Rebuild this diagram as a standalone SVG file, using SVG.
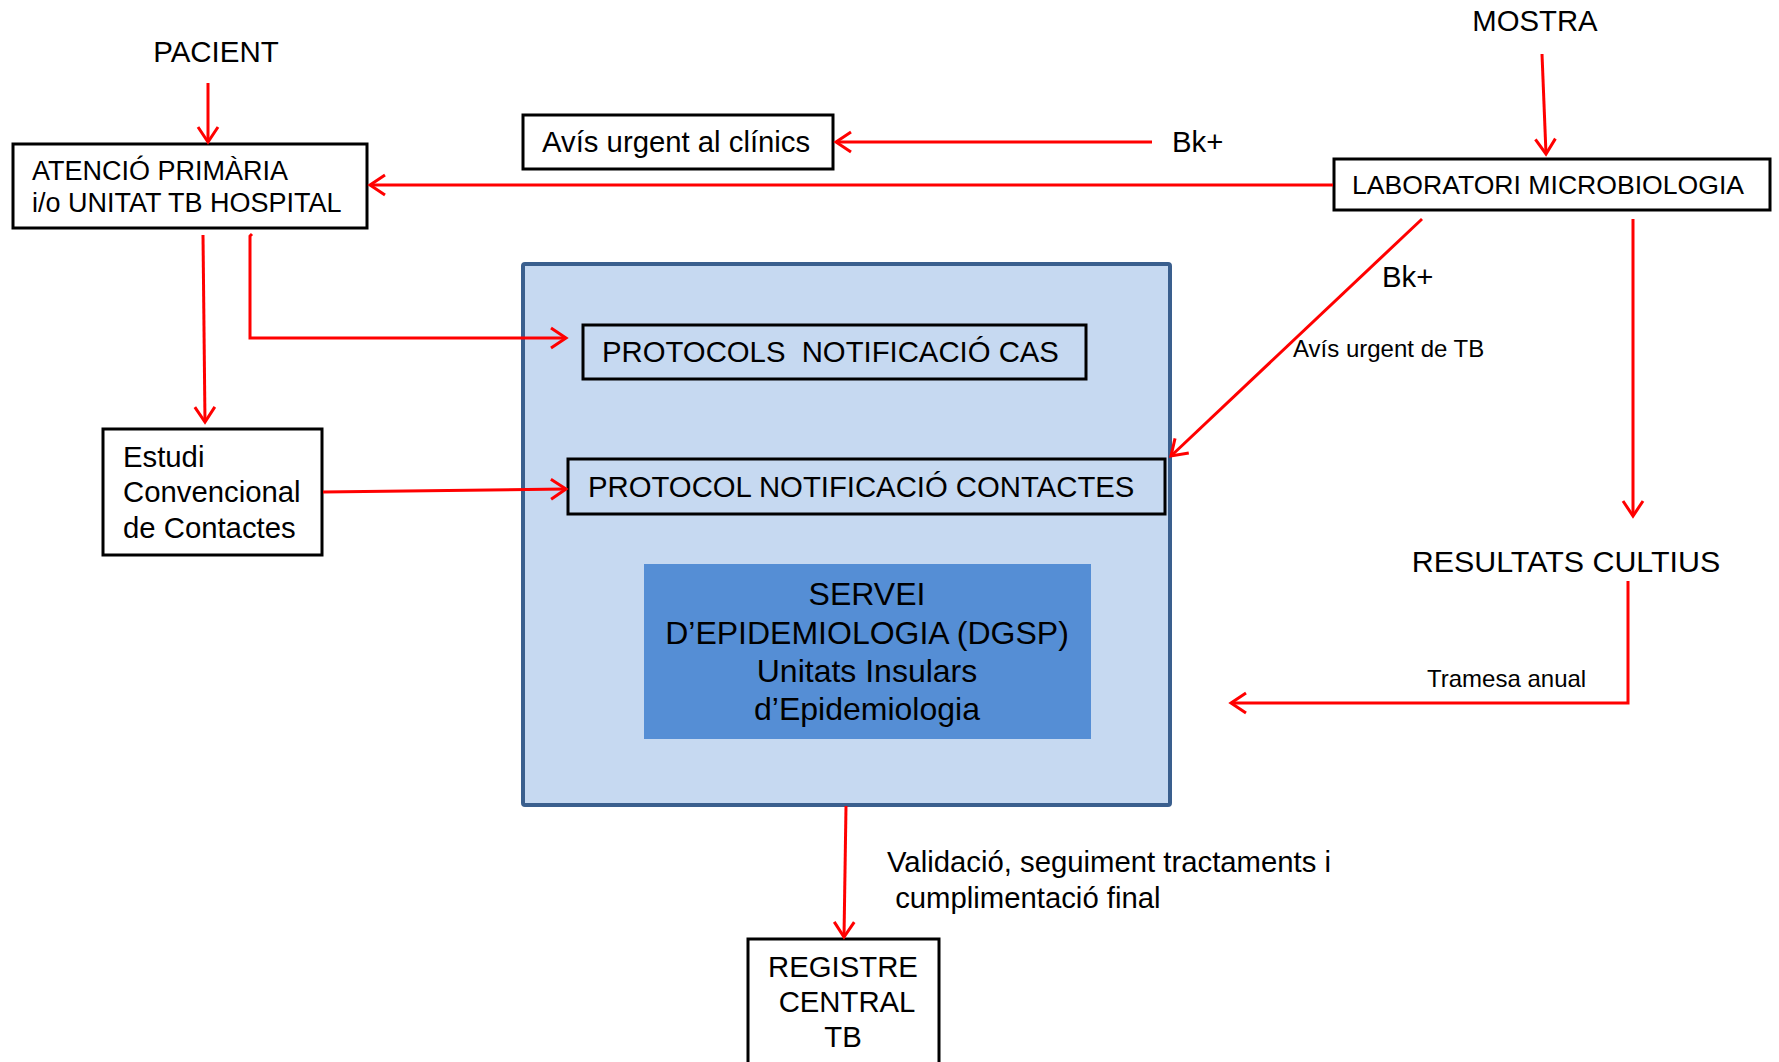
<svg xmlns="http://www.w3.org/2000/svg" width="1779" height="1062" viewBox="0 0 1779 1062">
<style>
text{font-family:"Liberation Sans",Arial,sans-serif;fill:#000;}
.box{fill:#fff;stroke:#000;stroke-width:3;}
.inbox{fill:none;stroke:#000;stroke-width:3;}
.con{fill:none;stroke:#ff0000;stroke-width:3;}
.t27{font-size:27px;}
.t29{font-size:29.3px;}
.t32{font-size:32px;}
.t24{font-size:24px;}
</style>
<defs>
<marker id="arr" viewBox="-20 -14 24 28" markerWidth="24" markerHeight="28" refX="0" refY="0" orient="auto" markerUnits="userSpaceOnUse">
<path d="M-15,-10 L0,0 L-15,10" fill="none" stroke="#ff0000" stroke-width="3"/>
</marker>
</defs>
<rect width="1779" height="1062" fill="#fff"/>

<g id="pacient"><text style="font-size:29.5px" x="216" y="62" text-anchor="middle">PACIENT</text></g>
<g id="mostra"><text class="t29" x="1535" y="31" text-anchor="middle">MOSTRA</text></g>

<g id="atencio">
<rect class="box" x="13" y="144" width="354" height="84"/>
<text class="t27" x="32" y="180">ATENCIÓ PRIMÀRIA</text>
<text class="t27" x="32" y="212">i/o UNITAT TB HOSPITAL</text>
</g>

<g id="avis">
<rect class="box" x="523" y="115" width="310" height="54"/>
<text class="t29" x="542" y="152">Avís urgent al clínics</text>
</g>

<g id="laboratori">
<rect class="box" x="1334" y="159" width="436" height="51"/>
<text style="font-size:26.6px" x="1352" y="194">LABORATORI MICROBIOLOGIA</text>
</g>

<g id="epidemiologia">
<rect x="523" y="264" width="647" height="541" fill="#c6d9f1" stroke="#3a5f8e" stroke-width="4" rx="2"/>
</g>

<g id="protocol-cas">
<rect class="inbox" x="583" y="325" width="503" height="54"/>
<text class="t29" x="602" y="362" xml:space="preserve">PROTOCOLS  NOTIFICACIÓ CAS</text>
</g>

<g id="protocol-contactes">
<rect class="inbox" x="568" y="459" width="597" height="55"/>
<text class="t29" x="588" y="497">PROTOCOL NOTIFICACIÓ CONTACTES</text>
</g>

<g id="servei">
<rect x="644" y="564" width="447" height="175" fill="#558ed5"/>
<text class="t32" x="867" y="605" text-anchor="middle">SERVEI</text>
<text class="t32" x="867" y="644" text-anchor="middle">D’EPIDEMIOLOGIA (DGSP)</text>
<text class="t32" x="867" y="682" text-anchor="middle">Unitats Insulars</text>
<text class="t32" x="867" y="720" text-anchor="middle">d’Epidemiologia</text>
</g>

<g id="estudi">
<rect class="box" x="103" y="429" width="219" height="126"/>
<text class="t29" x="123" y="467">Estudi</text>
<text class="t29" x="123" y="502">Convencional</text>
<text class="t29" x="123" y="538">de Contactes</text>
</g>

<g id="resultats"><text style="font-size:30.4px" x="1566" y="572" text-anchor="middle">RESULTATS CULTIUS</text></g>

<g id="registre">
<rect class="box" x="748" y="939" width="191" height="130"/>
<text class="t29" x="843" y="977" text-anchor="middle">REGISTRE</text>
<text class="t29" x="847" y="1012" text-anchor="middle">CENTRAL</text>
<text class="t29" x="843" y="1047" text-anchor="middle">TB</text>
</g>

<g id="connectors">
<line class="con" x1="208" y1="83" x2="208" y2="142" marker-end="url(#arr)"/>
<line class="con" x1="1542" y1="54" x2="1546" y2="154" marker-end="url(#arr)"/>
<line class="con" x1="1333" y1="185" x2="370" y2="185" marker-end="url(#arr)"/>
<line class="con" x1="1152" y1="142" x2="836" y2="142" marker-end="url(#arr)"/>
<line class="con" x1="1422" y1="219" x2="1171" y2="456" marker-end="url(#arr)"/>
<line class="con" x1="1633" y1="219" x2="1633" y2="516" marker-end="url(#arr)"/>
<polyline class="con" points="1628,581 1628,703 1231,703" marker-end="url(#arr)"/>
<polyline class="con" points="252,234 250,236 250,338 566,338" marker-end="url(#arr)"/>
<line class="con" x1="203" y1="235" x2="205" y2="422" marker-end="url(#arr)"/>
<line class="con" x1="323" y1="492" x2="566" y2="489" marker-end="url(#arr)"/>
<line class="con" x1="846" y1="806" x2="844" y2="937" marker-end="url(#arr)"/>
</g>

<g id="labels">
<text class="t29" x="1172" y="152">Bk+</text>
<text class="t29" x="1382" y="287">Bk+</text>
<text class="t24" x="1293" y="357">Avís urgent de TB</text>
<text class="t24" x="1427" y="687">Tramesa anual</text>
<text class="t29" x="887" y="872">Validació, seguiment tractaments i</text>
<text class="t29" x="887" y="908" xml:space="preserve"> cumplimentació final</text>
</g>
</svg>
